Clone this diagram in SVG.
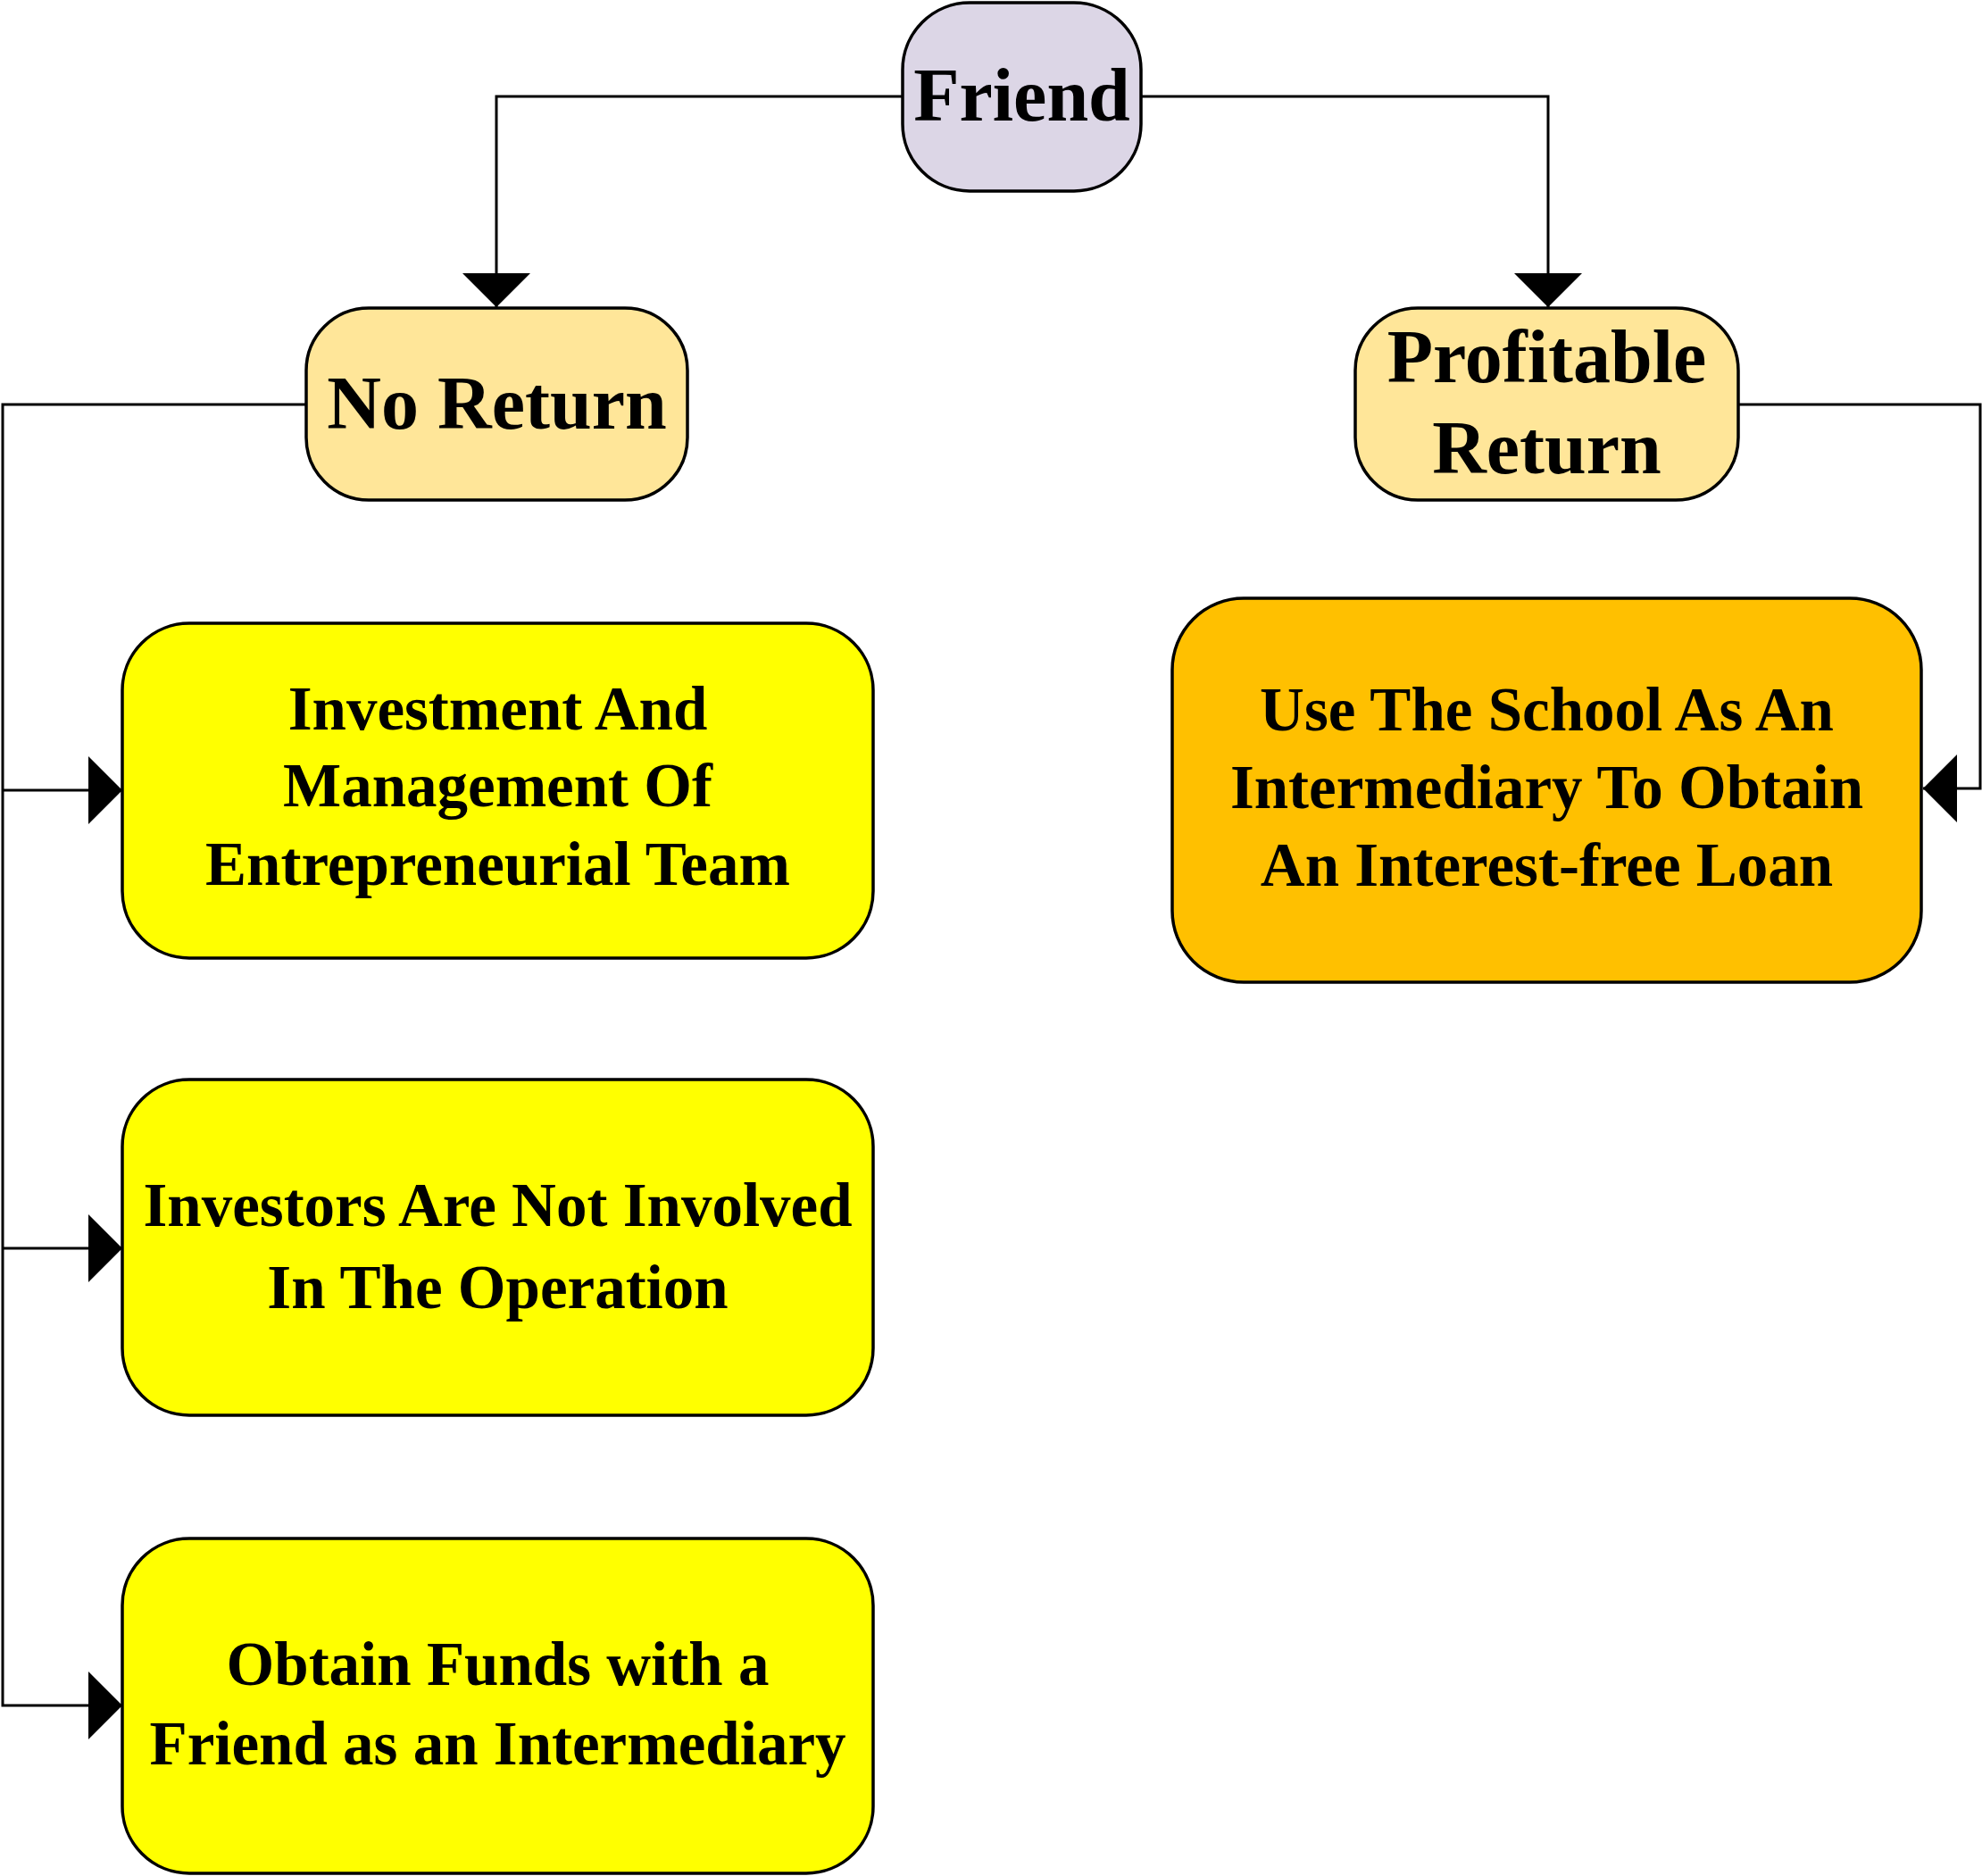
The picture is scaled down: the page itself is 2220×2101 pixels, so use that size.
<svg xmlns="http://www.w3.org/2000/svg" width="2220" height="2101" viewBox="0 0 2220 2101">
<style>
.box{stroke:#000;stroke-width:3.5}
.friend{fill:#DCD6E6}
.ret{fill:#FFE699}
.yel{fill:#FFFF00}
.org{fill:#FFC000}
.t{font-family:"Liberation Serif","Times New Roman",serif;font-weight:bold;fill:#000;text-anchor:middle}
.big{font-size:84px}
.small{font-size:69px}
.conn{fill:none;stroke:#000;stroke-width:3}
</style>
<defs>
<marker id="arr" markerUnits="userSpaceOnUse" markerWidth="38" markerHeight="76" viewBox="0 0 38 76" refX="38" refY="38" orient="auto">
<path d="M0,0 L38,38 L0,76 Z" fill="#000"/>
</marker>
</defs>
<rect width="2220" height="2101" fill="#fff"/>
<g id="connectors">
<path class="conn" d="M1011,108 H556 V344" marker-end="url(#arr)"/>
<path class="conn" d="M1278,108 H1734 V344" marker-end="url(#arr)"/>
<path class="conn" d="M343,453 H3 V1910 H137" marker-end="url(#arr)"/>
<path class="conn" d="M3,885 H137" marker-end="url(#arr)"/>
<path class="conn" d="M3,1398 H137" marker-end="url(#arr)"/>
<path class="conn" d="M1947,453 H2218 V883 H2154" marker-end="url(#arr)"/>
</g>
<g id="node-friend">
<rect class="box friend" x="1011" y="3" width="267" height="211" rx="75" ry="75"/>
<text class="t big" x="1144.5" y="135">Friend</text>
</g>
<g id="node-no-return">
<rect class="box ret" x="343" y="345" width="427" height="215" rx="70" ry="70"/>
<text class="t big" x="556.5" y="480">No Return</text>
</g>
<g id="node-profitable-return">
<rect class="box ret" x="1518" y="345" width="429" height="215" rx="70" ry="70"/>
<text class="t big" x="1732.5" y="428">Profitable</text>
<text class="t big" x="1732.5" y="530">Return</text>
</g>
<g id="node-investment">
<rect class="box yel" x="137" y="698" width="841" height="375" rx="75" ry="75"/>
<text class="t small" x="557.5" y="817">Investment And</text>
<text class="t small" x="557.5" y="903">Management Of</text>
<text class="t small" x="557.5" y="991">Entrepreneurial Team</text>
</g>
<g id="node-investors">
<rect class="box yel" x="137" y="1209" width="841" height="376" rx="75" ry="75"/>
<text class="t small" x="557.5" y="1373">Investors Are Not Involved</text>
<text class="t small" x="557.5" y="1465">In The Operation</text>
</g>
<g id="node-obtain-funds">
<rect class="box yel" x="137" y="1723" width="841" height="375" rx="75" ry="75"/>
<text class="t small" x="557.5" y="1887">Obtain Funds with a</text>
<text class="t small" x="557.5" y="1976">Friend as an Intermediary</text>
</g>
<g id="node-school">
<rect class="box org" x="1313" y="670" width="839" height="430" rx="80" ry="80"/>
<text class="t small" x="1732.5" y="818">Use The School As An</text>
<text class="t small" x="1732.5" y="905">Intermediary To Obtain</text>
<text class="t small" x="1732.5" y="992">An Interest-free Loan</text>
</g>
</svg>
